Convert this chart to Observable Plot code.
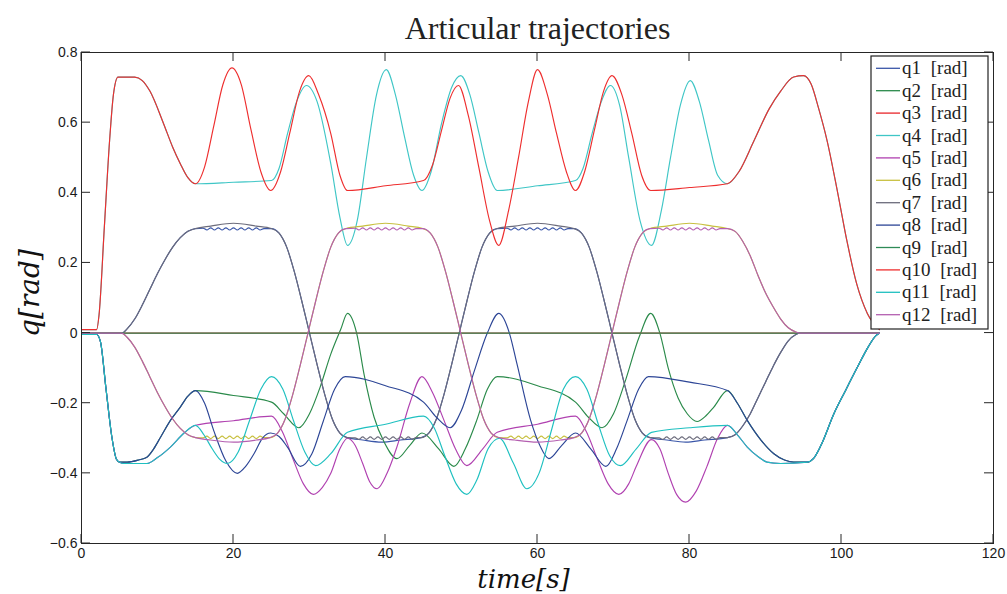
<!DOCTYPE html>
<html><head><meta charset="utf-8">
<script src="https://cdn.jsdelivr.net/npm/d3@7"></script>
<script src="https://cdn.jsdelivr.net/npm/@observablehq/plot@0.6"></script>
<style>body{margin:0;background:#fff;}</style>
</head><body><div id="chart"></div>
<script>
const xTicks = [0, 20, 40, 60, 80, 100, 120];
const yTicks = [-0.6, -0.4, -0.2, 0, 0.2, 0.4, 0.6, 0.8];
const names = ["q1 [rad]","q2 [rad]","q3 [rad]","q4 [rad]","q5 [rad]","q6 [rad]","q7 [rad]","q8 [rad]","q9 [rad]","q10 [rad]","q11 [rad]","q12 [rad]"];
const colors = ["#3a56a8","#2a8a4a","#e8262a","#3fc6c6","#b041b0","#c8c040","#6c6c7c","#2c4596","#2e8b57","#ee2e2e","#1fc0c0","#b45fb0"];

// ---- top (knee) curves ----
const topStart = [[0,0.01],[2,0.01],[2.3,0.05],[3,0.3],[3.7,0.55],[4.2,0.68],[4.8,0.73],[7,0.73],[8,0.72],[9,0.69],[10.8,0.597],[12,0.53],[13,0.483],[14,0.443],[15,0.4257]];
const topEnd = [[85,0.4257],[86.5,0.46],[88.5,0.549],[90.5,0.64],[92,0.69],[93.7,0.73],[95,0.734],[96,0.71],[97,0.64],[98.1,0.549],[99.5,0.4],[100.7,0.264],[102,0.14],[103.4,0.056],[105,0.01]];
const q4Mid = [[20,0.43],[25,0.435],[26,0.47],[27.1,0.568],[28.3,0.66],[29.6,0.706],[31,0.66],[32.8,0.483],[34,0.33],[35,0.25],[36.3,0.323],[37.5,0.5],[38.8,0.678],[40.1,0.751],[41.3,0.68],[42.5,0.56],[43.7,0.45],[44.8,0.4066],[46,0.46],[47.4,0.6],[48.7,0.7],[49.9,0.734],[51.1,0.68],[52.3,0.57],[53.5,0.46],[54.7,0.4066],[60,0.42],[65,0.435],[66,0.47],[67.2,0.57],[68.4,0.66],[69.6,0.706],[70.8,0.65],[72,0.5],[73.5,0.32],[75,0.25],[76.3,0.35],[77.5,0.5],[78.8,0.65],[80.1,0.72],[81.3,0.66],[82.5,0.55],[83.7,0.45]];
const q10Mid = [[16.2,0.474],[17.4,0.59],[18.6,0.708],[19.8,0.756],[21,0.71],[22.3,0.58],[23.6,0.46],[24.9,0.4066],[26.2,0.46],[27.4,0.57],[28.7,0.69],[29.9,0.734],[31.2,0.68],[32.8,0.569],[34,0.45],[35,0.4066],[40,0.42],[45,0.435],[46.2,0.48],[47.4,0.58],[48.5,0.67],[49.6,0.706],[50.9,0.62],[52.3,0.47],[53.7,0.32],[54.9,0.25],[56.2,0.35],[57.5,0.5],[58.8,0.66],[60,0.751],[61.3,0.68],[62.5,0.57],[63.8,0.46],[65,0.4066],[66.2,0.46],[67.5,0.58],[68.7,0.69],[69.8,0.734],[71.1,0.68],[72.4,0.57],[73.7,0.45],[74.9,0.4066],[80,0.415]];

// ---- hip curves C (q1, q7) ----
const cRise1 = [[0,0],[5.3,0],[6,0.012],[7,0.04],[8,0.08],[9,0.125],[10,0.17],[11,0.21],[12,0.245],[13,0.272],[14,0.29],[15,0.298]];
const cFall1 = [[25,0.298],[26,0.285],[27,0.245],[28,0.175],[29,0.09],[30,0],[31,-0.09],[32,-0.175],[33,-0.245],[34,-0.285],[35,-0.298]];
const cRise2 = [[44.7,-0.298],[45.7,-0.285],[46.7,-0.245],[47.7,-0.175],[48.7,-0.09],[49.7,0],[50.7,0.09],[51.7,0.175],[52.7,0.245],[53.7,0.285],[54.7,0.298]];
const cFall2 = [[64.8,0.298],[65.8,0.285],[66.8,0.245],[67.8,0.175],[68.8,0.09],[69.8,0],[70.8,-0.09],[71.8,-0.175],[72.8,-0.245],[73.8,-0.285],[74.8,-0.298]];
const cRise3 = [[85,-0.298],[86,-0.29],[87,-0.265],[88,-0.23],[89,-0.185],[90,-0.14],[91,-0.095],[92,-0.055],[93,-0.022],[94,-0.004],[94.5,0],[105,0]];
// ---- hip curves D (q6, q12) ----
const dFall1 = [[0,0],[5.3,0],[6,-0.012],[7,-0.04],[8,-0.08],[9,-0.125],[10,-0.17],[11,-0.21],[12,-0.245],[13,-0.272],[14,-0.29],[15,-0.298]];
const dRise1 = [[24.8,-0.298],[25.8,-0.285],[26.8,-0.245],[27.8,-0.175],[28.8,-0.09],[29.8,0],[30.8,0.09],[31.8,0.175],[32.8,0.245],[33.8,0.285],[34.8,0.298]];
const dFall2 = [[44.9,0.298],[45.9,0.285],[46.9,0.245],[47.9,0.175],[48.9,0.09],[49.9,0],[50.9,-0.09],[51.9,-0.175],[52.9,-0.245],[53.9,-0.285],[54.9,-0.298]];
const dRise2 = [[64.8,-0.298],[65.8,-0.285],[66.8,-0.245],[67.8,-0.175],[68.8,-0.09],[69.8,0],[70.8,0.09],[71.8,0.175],[72.8,0.245],[73.8,0.285],[74.8,0.298]];
const dFall3 = [[85,0.298],[86,0.29],[87,0.262],[88,0.22],[89,0.165],[90,0.115],[91,0.075],[92,0.04],[93,0.015],[94,0.003],[94.5,0],[105,0]];
// plateau details
const bumpA = [[17,0.305],[20,0.313],[23,0.305]];
const bumpB = [[57,0.305],[60,0.313],[63,0.305]];
const bumpC = [[37,0.305],[40,0.313],[43,0.305]];
const bumpD = [[77,0.305],[80,0.313],[83,0.305]];
const dipA = [[17,-0.305],[20,-0.311],[23,-0.305]];
const dipB = [[57,-0.305],[60,-0.311],[63,-0.305]];
const dipC = [[37,-0.305],[39.5,-0.311],[42,-0.305]];
const dipD = [[77,-0.305],[79.5,-0.311],[82,-0.305]];
const wigPosA = [[16,0.299],[16.5,0.294],[17,0.3],[17.5,0.294],[18,0.3],[18.5,0.294],[19,0.3],[19.5,0.294],[20,0.3],[20.5,0.294],[21,0.3],[21.5,0.294],[22,0.3],[22.5,0.294],[23,0.3],[23.5,0.294],[24,0.298]];
const wigPosB = [[56,0.299],[56.5,0.294],[57,0.3],[57.5,0.294],[58,0.3],[58.5,0.294],[59,0.3],[59.5,0.294],[60,0.3],[60.5,0.294],[61,0.3],[61.5,0.294],[62,0.3],[62.5,0.294],[63,0.3],[63.5,0.294],[64,0.298]];
const wigPosC = [[36,0.299],[36.5,0.294],[37,0.3],[37.5,0.294],[38,0.3],[38.5,0.294],[39,0.3],[39.5,0.294],[40,0.3],[40.5,0.294],[41,0.3],[41.5,0.294],[42,0.3],[42.5,0.294],[43,0.3],[43.5,0.294],[44,0.298]];
const wigPosD = [[76,0.299],[76.5,0.294],[77,0.3],[77.5,0.294],[78,0.3],[78.5,0.294],[79,0.3],[79.5,0.294],[80,0.3],[80.5,0.294],[81,0.3],[81.5,0.294],[82,0.3],[82.5,0.294],[83,0.3],[83.5,0.294],[84,0.298]];
const wigNegA = [[16,-0.299],[16.5,-0.294],[17,-0.301],[17.5,-0.294],[18,-0.301],[18.5,-0.294],[19,-0.301],[19.5,-0.294],[20,-0.301],[20.5,-0.294],[21,-0.301],[21.5,-0.294],[22,-0.301],[22.5,-0.294],[23,-0.301],[23.5,-0.294],[24,-0.298]];
const wigNegB = [[56,-0.299],[56.5,-0.294],[57,-0.301],[57.5,-0.294],[58,-0.301],[58.5,-0.294],[59,-0.301],[59.5,-0.294],[60,-0.301],[60.5,-0.294],[61,-0.301],[61.5,-0.294],[62,-0.301],[62.5,-0.294],[63,-0.301],[63.5,-0.294],[64,-0.298]];
const wigNegC = [[36,-0.299],[36.5,-0.303],[37,-0.296],[37.5,-0.303],[38,-0.296],[38.5,-0.303],[39,-0.296],[39.5,-0.303],[40,-0.296],[40.5,-0.303],[41,-0.296],[41.5,-0.303],[42,-0.296],[42.5,-0.303],[43,-0.296],[43.5,-0.303],[44,-0.298]];
const wigNegD = [[76,-0.299],[76.5,-0.303],[77,-0.296],[77.5,-0.303],[78,-0.296],[78.5,-0.303],[79,-0.296],[79.5,-0.303],[80,-0.296],[80.5,-0.303],[81,-0.296],[81.5,-0.303],[82,-0.296],[82.5,-0.303],[83,-0.296],[83.5,-0.303],[84,-0.298]];

// ---- bottom curves ----
const botStart = [[0,-0.004],[2,-0.004],[2.5,-0.025],[3.2,-0.154],[4,-0.297],[4.6,-0.36],[5,-0.368]];
const fgStart = [[6,-0.368],[7.5,-0.362],[8.6,-0.354],[9.5,-0.33],[10.4,-0.297],[11.7,-0.249],[13,-0.211],[14,-0.18],[15,-0.164]];
const hiStart = [[5.5,-0.372],[8.6,-0.372],[10,-0.355],[11.7,-0.325],[13.5,-0.285],[15,-0.263]];
const fgEnd = [[86.3,-0.2],[87.6,-0.249],[89.4,-0.305],[91.1,-0.344],[92.5,-0.362],[93.7,-0.368],[95.5,-0.368]];
const hiEnd = [[86.3,-0.29],[87.6,-0.325],[89,-0.352],[90.2,-0.368],[92,-0.372],[95.5,-0.368]];
const botEnd = [[96.3,-0.358],[97.3,-0.32],[99,-0.23],[100.5,-0.165],[102.1,-0.097],[103.5,-0.04],[104.5,-0.008],[105,0]];
const q8Mid = [[16.2,-0.2],[17.4,-0.278],[19,-0.365],[20.5,-0.4],[21.6,-0.38],[22.7,-0.344],[23.8,-0.3],[24.9,-0.285],[26,-0.295],[27.1,-0.325],[28.8,-0.38],[30.3,-0.345],[31.8,-0.252],[33.3,-0.16],[34.7,-0.124],[40,-0.15],[45,-0.197],[46.7,-0.24],[48.5,-0.27],[50,-0.22],[51.7,-0.107],[53.4,0],[54.9,0.056],[56.3,0],[57.3,-0.088],[59.1,-0.249],[60.3,-0.32],[61.5,-0.358],[63.2,-0.32],[65,-0.285],[67,-0.33],[69,-0.38],[70.4,-0.33],[71.8,-0.249],[73.3,-0.16],[74.6,-0.124],[80,-0.14],[85,-0.164]];
const q2Mid = [[20,-0.178],[25,-0.197],[26.6,-0.23],[28.6,-0.27],[30,-0.23],[31.4,-0.154],[32.8,-0.06],[34.1,0.01],[35,0.056],[36.2,0],[37.2,-0.12],[38.5,-0.24],[39.8,-0.31],[41.5,-0.358],[43.2,-0.32],[44.8,-0.285],[47,-0.33],[49,-0.38],[50.5,-0.33],[52,-0.249],[53.4,-0.16],[54.7,-0.124],[60,-0.15],[65,-0.197],[66.7,-0.24],[68.5,-0.27],[70,-0.23],[71.5,-0.14],[73.4,-0.01],[74.9,0.056],[76.1,0],[77.2,-0.1],[78.5,-0.185],[79.7,-0.23],[81,-0.252],[82.2,-0.235],[83.2,-0.211],[85,-0.164]];
const q11Mid = [[16.1,-0.29],[17.2,-0.33],[18.2,-0.36],[19.2,-0.372],[20.6,-0.34],[22.1,-0.25],[23.6,-0.16],[25,-0.124],[26.5,-0.16],[27.9,-0.25],[29.4,-0.34],[30.8,-0.378],[32.8,-0.344],[35,-0.283],[40,-0.26],[45,-0.237],[46.4,-0.27],[47.8,-0.35],[49.3,-0.43],[50.7,-0.46],[52,-0.42],[53.5,-0.33],[55,-0.3],[56.8,-0.37],[58.6,-0.444],[60.2,-0.4],[61.8,-0.28],[63.4,-0.16],[65,-0.124],[66.5,-0.16],[68,-0.26],[69.5,-0.35],[70.9,-0.378],[73,-0.33],[75,-0.283],[80,-0.27],[85,-0.263]];
const q5Mid = [[20,-0.25],[25,-0.237],[26.4,-0.28],[27.9,-0.363],[29.2,-0.43],[30.5,-0.46],[31.7,-0.44],[32.8,-0.4],[34,-0.33],[35,-0.3],[36,-0.32],[37,-0.372],[37.9,-0.423],[38.9,-0.444],[40.2,-0.4],[41.5,-0.325],[43.2,-0.2],[44.8,-0.124],[46.2,-0.17],[47.7,-0.249],[49.2,-0.33],[50.7,-0.378],[52.8,-0.33],[54.7,-0.283],[60,-0.26],[65,-0.237],[66.4,-0.28],[67.9,-0.36],[69.3,-0.43],[70.7,-0.46],[72,-0.43],[73,-0.38],[75,-0.304],[76.1,-0.33],[77.2,-0.4],[78.3,-0.46],[79.5,-0.482],[80.9,-0.45],[82.3,-0.38],[83.7,-0.3],[85,-0.263]];
const flatZero = [[0,0],[105,0]];

const q1 = [...cRise1, ...wigPosA, ...cFall1, ...dipC, ...cRise2, ...wigPosB, ...cFall2, ...dipD, ...cRise3];
const q7 = [...cRise1, ...bumpA, ...cFall1, ...wigNegC, ...cRise2, ...bumpB, ...cFall2, ...wigNegD, ...cRise3];
const q6 = [...dFall1, ...wigNegA, ...dRise1, ...bumpC, ...dFall2, ...wigNegB, ...dRise2, ...bumpD, ...dFall3];
const q12 = [...dFall1, ...dipA, ...dRise1, ...wigPosC, ...dFall2, ...dipB, ...dRise2, ...wigPosD, ...dFall3];
const q4 = [...topStart, ...q4Mid, ...topEnd];
const q10 = [...topStart, ...q10Mid, ...topEnd];
const q8 = [...botStart, ...fgStart, ...q8Mid, ...fgEnd, ...botEnd];
const q2 = [...botStart, ...fgStart, ...q2Mid, ...fgEnd, ...botEnd];
const q11 = [...botStart, ...hiStart, ...q11Mid, ...hiEnd, ...botEnd];
const q5 = [...botStart, ...hiStart, ...q5Mid, ...hiEnd, ...botEnd];
const q3 = flatZero, q9 = flatZero;
const series = [q1, q2, q3, q4, q5, q6, q7, q8, q9, q10, q11, q12];

const fmt = d => d === 0 ? "0" : (d < 0 ? "\u2212" : "") + Math.abs(d).toFixed(1);

const chart = Plot.plot({
  width: 1007, height: 594,
  marginLeft: 81, marginRight: 14, marginTop: 52, marginBottom: 51,
  x: {domain: [0, 120]},
  y: {domain: [-0.6, 0.8]},
  style: {fontFamily: "Liberation Sans, Arial, sans-serif", fontSize: "14px", background: "#fff", color: "#1a1a1a"},
  marks: [
    ...series.map((s, i) => Plot.line(s, {x: d => d[0], y: d => d[1], stroke: colors[i], strokeWidth: 1.15, curve: "monotone-x"})),
    Plot.frame({stroke: "#262626", strokeWidth: 1}),
    Plot.axisX(xTicks, {tickSize: 0, tickPadding: 5, label: null, fontSize: 14}),
    Plot.axisY(yTicks, {tickSize: 0, tickPadding: 4, label: null, fontSize: 14, tickFormat: fmt}),
    Plot.text(["Articular trajectories"], {frameAnchor: "top", lineAnchor: "middle", textAnchor: "middle", dy: -24, fontSize: 32, fontFamily: "Liberation Serif, serif", fill: "#222"}),
    Plot.text(["time[s]"], {frameAnchor: "bottom", lineAnchor: "middle", textAnchor: "middle", dx: -14, dy: 36, fontSize: 26, fontFamily: "DejaVu Serif, serif", fontStyle: "italic", fill: "#111"}),
    Plot.text(["q[rad]"], {frameAnchor: "left", lineAnchor: "middle", textAnchor: "middle", dx: -51, dy: -5, rotate: -90, fontSize: 28, fontFamily: "DejaVu Serif, serif", fontStyle: "italic", fill: "#111"})
  ]
});
document.getElementById("chart").appendChild(chart);

// inward ticks on all four sides, placed with Plot's own scales
const sx = chart.scale("x"), sy = chart.scale("y");
const xL = Math.min(...sx.range), xR = Math.max(...sx.range);
const yB = Math.max(...sy.range), yT = Math.min(...sy.range);
const tg = d3.select(chart).append("g").attr("stroke", "#262626").attr("stroke-width", 1);
const TL = 9;
xTicks.forEach(t => {
  const x = sx.apply(t);
  tg.append("line").attr("x1", x).attr("x2", x).attr("y1", yB).attr("y2", yB - TL);
  tg.append("line").attr("x1", x).attr("x2", x).attr("y1", yT).attr("y2", yT + TL);
});
yTicks.forEach(v => {
  const y = sy.apply(v);
  tg.append("line").attr("x1", xL).attr("x2", xL + TL).attr("y1", y).attr("y2", y);
  tg.append("line").attr("x1", xR).attr("x2", xR - TL).attr("y1", y).attr("y2", y);
});

// legend box
const lg = d3.select(chart).append("g").attr("text-anchor", "start");
const bx = 871, by = 56, bw = 117, bh = 273, step = 22.4, first = 68.3;
lg.append("rect").attr("x", bx).attr("y", by).attr("width", bw).attr("height", bh)
  .attr("fill", "#fff").attr("stroke", "#222").attr("stroke-width", 1.2);
names.forEach((n, i) => {
  const y = first + i * step;
  lg.append("line").attr("x1", bx + 5).attr("x2", bx + 29).attr("y1", y).attr("y2", y)
    .attr("stroke", colors[i]).attr("stroke-width", 1.3);
  lg.append("text").attr("x", bx + 31).attr("y", y + 6).text(n)
    .attr("text-anchor", "start")
    .attr("font-family", "Liberation Serif, serif").attr("font-size", 19)
    .attr("word-spacing", 5).attr("fill", "#222");
});
</script>
</body></html>
